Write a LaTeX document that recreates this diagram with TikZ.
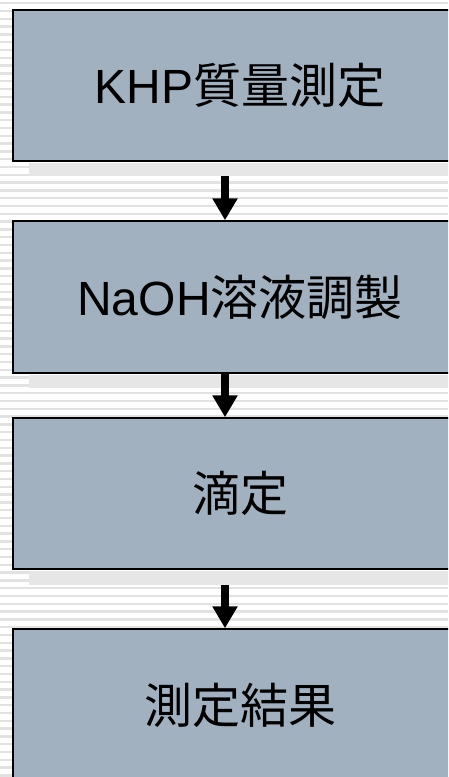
\documentclass[tikz,border=0pt]{standalone}
\usepackage{fontspec}
\setmainfont{Liberation Sans}
\newfontfamily\cjk{Noto Sans CJK JP}
\usetikzlibrary{arrows.meta,calc}
\definecolor{boxfill}{RGB}{162,177,192}
\definecolor{stripec}{RGB}{226,226,226}
\definecolor{shadowc}{RGB}{230,230,230}
\tikzset{
  stepbox/.style={draw=black, line width=1.5pt, fill=boxfill, minimum width=454pt,
    inner sep=0pt, font=\fontsize{48}{54}\selectfont},
  flowarrow/.style={line width=8.6pt, -{Triangle[length=22pt,width=24pt]}},
  shadowband/.style={fill=shadowc}
}
\begin{document}
\begin{tikzpicture}[x=1pt,y=1pt]
\useasboundingbox (0,0) rectangle (448,-777);
\clip (0,0) rectangle (448,-777);
\fill[white] (0,0) rectangle (448,-777);
\foreach \i in {0,...,99} \fill[stripec] (0,{-2-7.8*\i}) rectangle (448,{-4.4-7.8*\i});
% shadows
\fill[shadowband] (29,-162.5) rectangle (480,-176);
\fill[shadowband] (29,-374.5) rectangle (480,-388);
\fill[shadowband] (29,-570.5) rectangle (480,-585);
% boxes
\node[stepbox, minimum height=151pt] (b1) at (240,-85.5) {KHP{\cjk 質量測定}};
\node[stepbox, minimum height=152pt] (b2) at (240,-297) {NaOH{\cjk 溶液調製}};
\node[stepbox, minimum height=151pt] (b3) at (240,-493.5) {{\cjk 滴定}};
\node[stepbox, minimum height=152pt] (b4) at (240,-705) {{\cjk 測定結果}};
% connectors
\draw[flowarrow] ($(b1.south)+(-15,-14.5)$) -- ($(b2.north)+(-15,0)$);
\draw[flowarrow] ($(b2.south)+(-15,0)$) -- ($(b3.north)+(-15,0)$);
\draw[flowarrow] ($(b3.south)+(-15,-15)$) -- ($(b4.north)+(-15,0)$);
\end{tikzpicture}
\end{document}
